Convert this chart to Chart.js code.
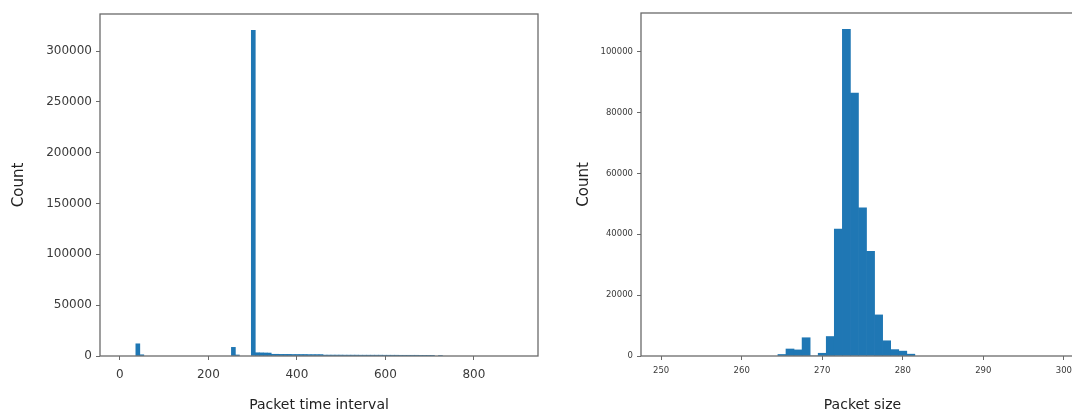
<!DOCTYPE html>
<html>
<head>
<meta charset="utf-8">
<script src="https://cdn.jsdelivr.net/npm/chart.js@4/dist/chart.umd.min.js"></script>
<style>
  html, body { margin: 0; padding: 0; background: #fff; overflow: hidden; }
  body { width: 1072px; height: 414px; position: relative; }
  .box { position: absolute; top: 0; height: 414px; }
  #left { left: 0; width: 545px; }
  #right { left: 560px; width: 530px; }
</style>
</head>
<body>
<div class="box" id="left"><canvas id="intervalChart"></canvas></div>
<div class="box" id="right"><canvas id="sizeChart"></canvas></div>
<script>
// Histogram 1: packet time interval (bin centres, width 9)
const intervalBins = [
  40.5, 49.5, 256.5, 265.5, 301.5, 310.5, 319.5, 328.5, 337.5,
  346.5, 355.5, 364.5, 373.5, 382.5, 391.5, 400.5, 409.5, 418.5, 427.5, 436.5, 445.5, 454.5,
  463.5, 472.5, 481.5, 490.5, 499.5, 508.5, 517.5, 526.5, 535.5, 544.5, 553.5, 562.5, 571.5,
  580.5, 589.5, 598.5, 607.5, 616.5, 625.5, 634.5, 643.5, 652.5, 661.5, 670.5, 679.5, 688.5,
  697.5, 706.5, 724.5
];
const intervalCounts = [
  12000, 1200, 8500, 1000, 320500, 3200, 3100, 3000, 2900,
  1700, 1700, 1600, 1600, 1600, 1500, 1500, 1500, 1500, 1400, 1400, 1400, 1400,
  900, 900, 900, 900, 900, 850, 850, 850, 850, 800, 800, 800, 800,
  800, 800, 750, 750, 750, 750, 700, 700, 700, 700, 700, 650, 650,
  650, 650, 500
];
const intervalTicks = [0, 200, 400, 600, 800];
const intervalCountTicks = [0, 50000, 100000, 150000, 200000, 250000, 300000];

// Histogram 2: packet size (bin centres, width 1)
const sizeBins = [265, 266, 267, 268, 269, 270, 271, 272, 273, 274, 275, 276, 277, 278, 279, 280, 281];
const sizeCounts = [500, 2300, 2000, 6000, 0, 900, 6400, 41700, 107300, 86400, 48700, 34400, 13500, 5000, 2100, 1600, 600];
const sizeTicks = [250, 260, 270, 280, 290, 300];
const sizeCountTicks = [0, 20000, 40000, 60000, 80000, 100000];

const barColor = '#1f77b4';
const frameColor = '#6a6a6a';
const textColor = '#3a3a3a';

// rysuje ramkę wokół obszaru wykresu (jak w matplotlib)
const framePlugin = {
  id: 'frame',
  afterDraw(chart) {
    const a = chart.chartArea;
    const ctx = chart.ctx;
    ctx.save();
    ctx.strokeStyle = frameColor;
    ctx.lineWidth = 1.3;
    ctx.strokeRect(a.left, a.top, a.right - a.left, a.bottom - a.top);
    ctx.restore();
  }
};

function toPoints(xs, ys) {
  return xs.map((x, i) => ({ x: x, y: ys[i] }));
}

function makeHist(canvasId, cfg) {
  return new Chart(document.getElementById(canvasId), {
    type: 'bar',
    data: {
      datasets: [{
        data: toPoints(cfg.bins, cfg.counts),
        backgroundColor: barColor,
        borderWidth: 0,
        barPercentage: 1,
        categoryPercentage: 1
      }]
    },
    options: {
      responsive: true,
      maintainAspectRatio: false,
      animation: false,
      layout: { padding: cfg.padding },
      plugins: { legend: { display: false }, tooltip: { enabled: false } },
      scales: {
        x: {
          type: 'linear',
          offset: false,
          min: cfg.xMin,
          max: cfg.xMax,
          afterBuildTicks: s => { s.ticks = cfg.ticks.map(v => ({ value: v })); },
          afterFit: s => { s.height = cfg.xHeight; },
          grid: { offset: false, drawOnChartArea: false, drawTicks: true, tickLength: 4, color: frameColor },
          border: { display: false },
          ticks: {
            color: textColor, font: { family: 'DejaVu Sans', size: cfg.tickSize },
            padding: cfg.xPad, maxRotation: 0, callback: v => String(v)
          },
          title: {
            display: true, text: cfg.xTitle, color: '#222',
            font: { family: 'DejaVu Sans', size: 14 }, padding: cfg.xTitlePad
          }
        },
        y: {
          min: 0,
          max: cfg.yMax,
          afterBuildTicks: s => { s.ticks = cfg.yTicks.map(v => ({ value: v })); },
          afterFit: s => { s.width = cfg.yWidth; },
          grid: { offset: false, drawOnChartArea: false, drawTicks: true, tickLength: 4, color: frameColor },
          border: { display: false },
          ticks: {
            color: textColor, font: { family: 'DejaVu Sans', size: cfg.tickSize },
            padding: 4, callback: v => String(v)
          },
          title: {
            display: true, text: 'Count', color: '#222',
            font: { family: 'DejaVu Sans', size: 15 }, padding: cfg.yTitlePad
          }
        }
      }
    },
    plugins: [framePlugin]
  });
}

makeHist('intervalChart', {
  bins: intervalBins, counts: intervalCounts, ticks: intervalTicks, yTicks: intervalCountTicks,
  xMin: -45, xMax: 945, yMax: 336500,
  padding: { top: 14, right: 7, left: 0, bottom: 0 },
  xHeight: 58, yWidth: 100, tickSize: 12, xPad: 8,
  xTitle: 'Packet time interval',
  xTitlePad: { top: 4, bottom: 0 },
  yTitlePad: { top: 10, bottom: 4 }
});

makeHist('sizeChart', {
  bins: sizeBins, counts: sizeCounts, ticks: sizeTicks, yTicks: sizeCountTicks,
  xMin: 247.5, xMax: 302.5, yMax: 112700,
  padding: { top: 13, right: 6, left: 0, bottom: 0 },
  xHeight: 58, yWidth: 81, tickSize: 8.5, xPad: 6,
  xTitle: 'Packet size',
  xTitlePad: { top: 4, bottom: 0 },
  yTitlePad: { top: 15, bottom: 4 }
});
</script>
</body>
</html>
